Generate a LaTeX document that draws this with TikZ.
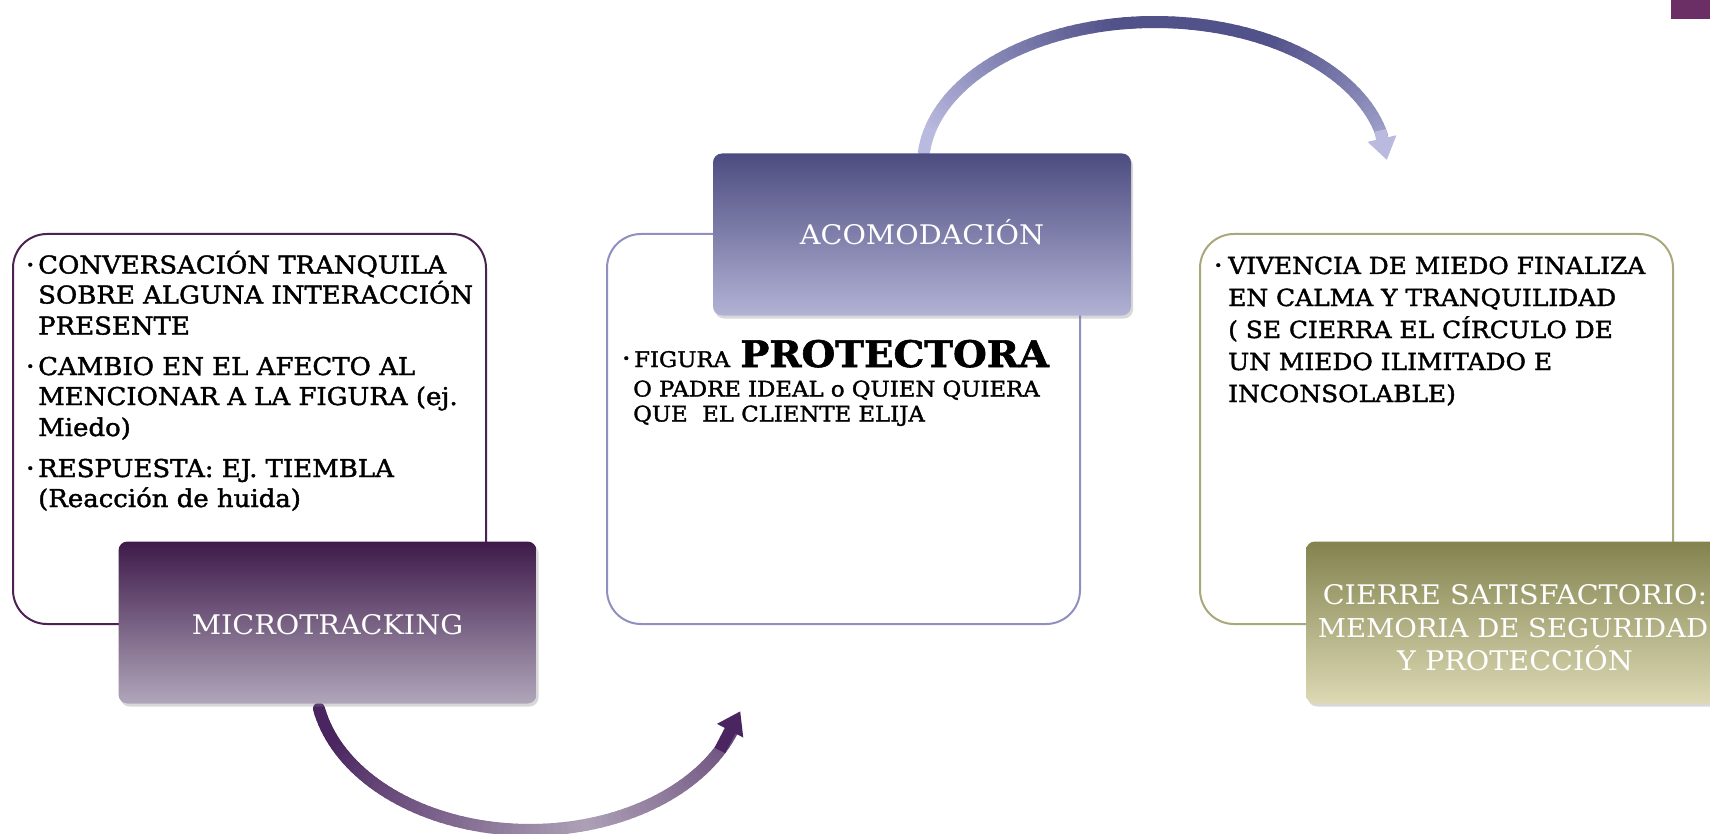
\documentclass[tikz,border=0pt]{standalone}
\usepackage{fontspec}
\setmainfont{DejaVu Serif}[FakeStretch=1.06]
\newfontfamily\bodyfont{DejaVu Serif}[FakeStretch=1.06, FakeBold=1.6]
\usetikzlibrary{shadows,arrows.meta}
\definecolor{lboxline}{HTML}{4B2251}
\definecolor{mboxline}{HTML}{9090C0}
\definecolor{rboxline}{HTML}{A8A87C}
\definecolor{microtop}{HTML}{3E1A4A}
\definecolor{microbot}{HTML}{B0A6BA}
\definecolor{acotop}{HTML}{4D4C80}
\definecolor{acobot}{HTML}{B2B2D6}
\definecolor{cietop}{HTML}{83834F}
\definecolor{ciebot}{HTML}{DCD9B4}
\definecolor{topdark}{HTML}{52528A}
\definecolor{toplight}{HTML}{BABAE0}
\definecolor{botdark}{HTML}{4A2560}
\definecolor{botlight}{HTML}{ADA0B6}
\definecolor{corner}{HTML}{6B2F65}
\newcommand{\mybul}[1]{\makebox[#1][l]{\raisebox{4pt}{\fontsize{13pt}{13pt}\selectfont •}}}
\tikzset{
  whitebox/.style={draw=#1, line width=2pt, fill=white, rounded corners=34pt,
    minimum width=473pt, minimum height=390pt, inner sep=0pt},
  labelbox/.style={rounded corners=9pt, minimum width=418pt, minimum height=162pt,
    inner sep=0pt, drop shadow={opacity=0.3, shadow xshift=2pt, shadow yshift=-3pt}},
  txt/.style={anchor=base west, inner sep=0pt, font=\bodyfont\fontsize{24.5pt}{28pt}\selectfont},
  rtxt/.style={anchor=base west, inner sep=0pt, font=\bodyfont\fontsize{23.5pt}{28pt}\selectfont},
  mtxt/.style={anchor=base west, inner sep=0pt, font=\bodyfont\fontsize{21.5pt}{24pt}\selectfont},
  lbl/.style={anchor=base, inner sep=0pt, text=white, font=\fontsize{27pt}{30pt}\selectfont},
}
\begin{document}
\begin{tikzpicture}[x=1pt,y=-1pt]
\useasboundingbox (0,0) rectangle (1710,834);
\fill[white] (0,0) rectangle (1710,834);
\fill[corner] (1671,0) rectangle (1710,19);

% white boxes
\node[whitebox=lboxline] (lbox) at (249.5,429) {};
\node[whitebox=mboxline] (mbox) at (843.5,429) {};
\node[whitebox=rboxline] (rbox) at (1436.5,429) {};

% top arc (ACOMODACION -> right box)
\coordinate (topS) at ({1155+232*cos(175)},{165-143*sin(175)});
\foreach \i in {0,...,79}{
  \pgfmathsetmacro{\ta}{175-\i*163/80}
  \pgfmathsetmacro{\tb}{175-(\i+1)*163/80}
  \pgfmathsetmacro{\p}{max(0,min(100,130*(1-abs(\ta-80)/85)))}
  \draw[line width=12pt, line cap=round, color=topdark!\p!toplight]
    ({1155+232*cos(\ta)},{165-143*sin(\ta)}) -- ({1155+232*cos(\tb)},{165-143*sin(\tb)});
}
\coordinate (topA) at ({1155+232*cos(14)},{165-143*sin(14)});
\coordinate (topE) at ({1155+232*cos(2)},{165-143*sin(2)});
\draw[line width=12pt, color=toplight, -{Triangle[length=22pt,width=28pt]}] (topA) -- (topE);

% bottom arc (MICROTRACKING -> middle box)
\coordinate (botS) at ({530+215*cos(169)},{680+150*sin(169)});
\foreach \i in {0,...,79}{
  \pgfmathsetmacro{\ta}{169-\i*151/80}
  \pgfmathsetmacro{\tb}{169-(\i+1)*151/80}
  \pgfmathsetmacro{\p}{max(0,min(100,100*abs(\ta-75)/80))}
  \draw[line width=12pt, line cap=round, color=botdark!\p!botlight]
    ({530+215*cos(\ta)},{680+150*sin(\ta)}) -- ({530+215*cos(\tb)},{680+150*sin(\tb)});
}
\coordinate (botA) at ({530+215*cos(28)},{680+150*sin(28)});
\coordinate (botE) at ({530+215*cos(12)},{680+150*sin(12)});
\draw[line width=12pt, color=botdark, -{Triangle[length=22pt,width=28pt]}] (botA) -- (botE);

% label boxes
\node[labelbox, top color=microtop, bottom color=microbot] (micro) at (327.5,622.5) {};
\node[labelbox, top color=acotop, bottom color=acobot] (acomo) at (922,234.5) {};
\node[labelbox, top color=cietop, bottom color=ciebot] (cierre) at (1515,622.5) {};

\node[lbl] (microt) at (327.5,634) {MICROTRACKING};
\node[lbl] (acomot) at (922,245) {ACOMODACIÓN};
\node[lbl] (cie1) at (1515,604) {CIERRE SATISFACTORIO:};
\node[lbl, font=\fontsize{26pt}{30pt}\selectfont] (cie2) at (1513,637) {MEMORIA DE SEGURIDAD};
\node[lbl] (cie3) at (1515,670) {Y PROTECCIÓN};

% left text
\node[txt] (l1) at (26,273.5) {\mybul{12pt}CONVERSACIÓN TRANQUILA};
\node[txt] (l2) at (38,303.5) {SOBRE ALGUNA INTERACCIÓN};
\node[txt] (l3) at (38,334.5) {PRESENTE};
\node[txt] (l4) at (26,375) {\mybul{12pt}CAMBIO EN EL AFECTO AL};
\node[txt] (l5) at (38,405) {MENCIONAR A LA FIGURA (ej.};
\node[txt] (l6) at (38,436) {Miedo)};
\node[txt] (l7) at (26,477) {\mybul{12pt}RESPUESTA: EJ. TIEMBLA};
\node[txt] (l8) at (38,507) {(Reacción de huida)};

% middle text
\node[mtxt] (m1) at (622,367) {\mybul{12pt}FIGURA\hspace{3pt} {\fontsize{36.5pt}{38pt}\selectfont\bfseries PROTECTORA}};
\node[mtxt] (m2) at (633,396.5) {O PADRE IDEAL o QUIEN QUIERA};
\node[mtxt] (m3) at (633,421.5) {QUE\ \ EL CLIENTE ELIJA};

% right text
\node[rtxt] (r1) at (1214,274) {\mybul{14pt}VIVENCIA DE MIEDO FINALIZA};
\node[rtxt] (r2) at (1228,306) {EN CALMA Y TRANQUILIDAD};
\node[rtxt] (r3) at (1228,338) {( SE CIERRA EL CÍRCULO DE};
\node[rtxt] (r4) at (1228,370) {UN MIEDO ILIMITADO E};
\node[rtxt] (r5) at (1228,402) {INCONSOLABLE)};
\end{tikzpicture}
\end{document}
